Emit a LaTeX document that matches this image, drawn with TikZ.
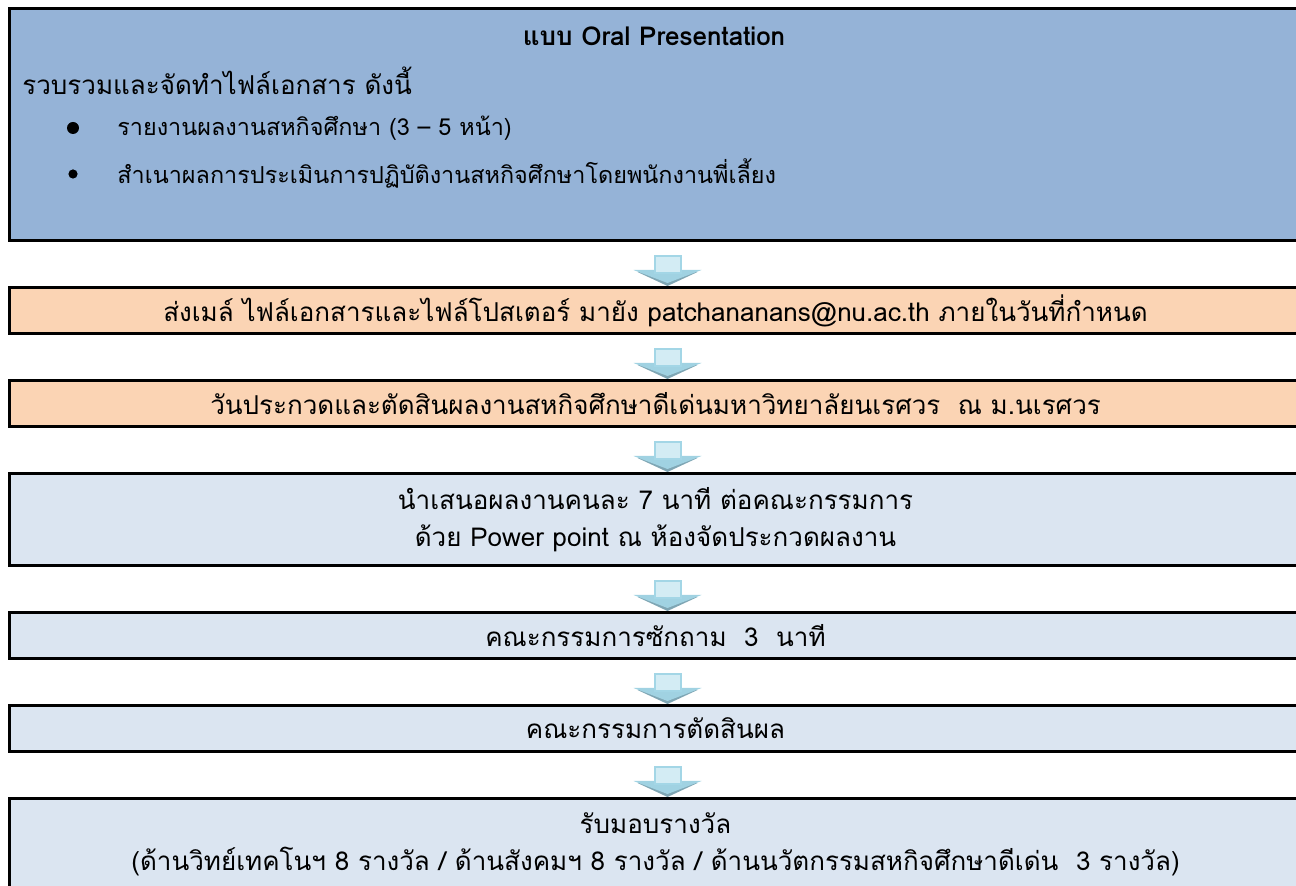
\documentclass[tikz,border=0pt]{standalone}
\usepackage{fontspec}
\setmainfont[Script=Thai]{Loma}
\usetikzlibrary{calc}
\definecolor{boxblue}{HTML}{95B3D7}
\definecolor{boxorange}{HTML}{FBD4B4}
\definecolor{boxlight}{HTML}{DBE5F1}
\definecolor{arrshaft}{HTML}{D3ECF4}
\definecolor{arredge}{HTML}{A3D6E6}
\definecolor{arrhead}{HTML}{A0D2E2}
\definecolor{arrshadow}{HTML}{7FA6B4}
\newcommand\blockarrow[2]{%
  \coordinate (#2) at ($(#1.south)+(12,0)$);
  \fill[arrshadow] ($(#2)+(-30,30)$) -- ($(#2)+(30,30)$) -- ($(#2)+(0,44)$) -- cycle;
  \fill[arrhead] ($(#2)+(-34,28)$) -- ($(#2)+(34,28)$) -- ($(#2)+(0,41)$) -- cycle;
  \draw[arredge, fill=arrshaft, line width=1pt] ($(#2)+(-13,14)$) rectangle ($(#2)+(13,31)$);
}
\begin{document}
\begin{tikzpicture}[x=0.5pt,y=-0.5pt,
  box/.style={draw=black, line width=1.5pt, anchor=north west, minimum width=646pt,
    inner sep=0pt, align=center, font=\fontsize{13}{18.5}\selectfont},
  txt/.style={inner sep=0pt, font=\fontsize{13}{18.5}\selectfont},
  btxt/.style={inner sep=0pt, anchor=west, font=\fontsize{11.7}{16}\selectfont},
  bul/.style={fill=black}]
\useasboundingbox (0,0) rectangle (1296,886);
\fill[white] (0,0) rectangle (1296,886);
\node[box, fill=boxblue, minimum height=116pt] (b1) at (8,7) {};
\node[txt, font=\fontsize{13}{18.5}\selectfont\bfseries] (t1) at (654,36) {แบบ Oral Presentation};
\node[txt, anchor=west] (t2) at (22,81) {รวบรวมและจัดทำไฟล์เอกสาร ดังนี้};
\fill[bul] (73,128) circle (3pt);
\node[btxt] (t3) at (117,128) {รายงานผลงานสหกิจศึกษา (3 – 5 หน้า)};
\fill[bul] (73,174) circle (2.3pt);
\node[btxt] (t4) at (117,173) {สำเนาผลการประเมินการปฏิบัติงานสหกิจศึกษาโดยพนักงานพี่เลี้ยง};

\node[box, fill=boxorange, minimum height=23pt] (b2) at (8,286) {ส่งเมล์ ไฟล์เอกสารและไฟล์โปสเตอร์ มายัง patchananans@nu.ac.th ภายในวันที่กำหนด};
\node[box, fill=boxorange, minimum height=23pt] (b3) at (8,379) {วันประกวดและตัดสินผลงานสหกิจศึกษาดีเด่นมหาวิทยาลัยนเรศวร~ ณ ม.นเรศวร};
\node[box, fill=boxlight, minimum height=46pt] (b4) at (8,472) {นำเสนอผลงานคนละ 7 นาที ต่อคณะกรรมการ\\ด้วย Power point ณ ห้องจัดประกวดผลงาน};
\node[box, fill=boxlight, minimum height=23pt] (b5) at (8,611) {คณะกรรมการซักถาม~ 3~ นาที};
\node[box, fill=boxlight, minimum height=23pt] (b6) at (8,704) {คณะกรรมการตัดสินผล};
\node[box, fill=boxlight, minimum height=46pt] (b7) at (8,797) {รับมอบรางวัล\\(ด้านวิทย์เทคโนฯ 8 รางวัล / ด้านสังคมฯ 8 รางวัล / ด้านนวัตกรรมสหกิจศึกษาดีเด่น~ 3 รางวัล)};

\blockarrow{b1}{a1}
\blockarrow{b2}{a2}
\blockarrow{b3}{a3}
\blockarrow{b4}{a4}
\blockarrow{b5}{a5}
\blockarrow{b6}{a6}
\end{tikzpicture}
\end{document}
